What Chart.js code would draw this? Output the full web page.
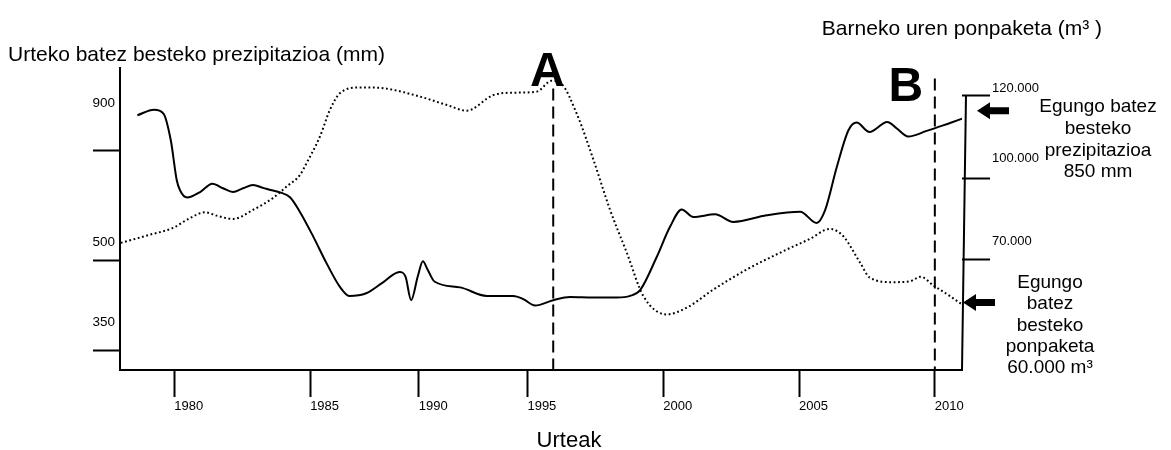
<!DOCTYPE html>
<html>
<head>
<meta charset="utf-8">
<script src="https://cdn.jsdelivr.net/npm/chart.js@4.4.1/dist/chart.umd.min.js"></script>
<style>
html,body{margin:0;padding:0;background:#fff;}
#wrap{width:1171px;height:450px;}
</style>
</head>
<body>
<div id="wrap"><canvas id="c" width="1171" height="450"></canvas></div>
<script>
// ---------- data ----------
const yearTicks = [1980, 1985, 1990, 1995, 2000, 2005, 2010];

const precipYears = [1978.64, 1979.25, 1979.6, 1979.87, 1980.09, 1980.21, 1980.47, 1980.95, 1981.4, 1981.79,
  1982.16, 1982.53, 1982.9, 1983.27, 1983.59, 1983.89, 1984.26, 1984.63, 1985.15, 1985.76,
  1986.37, 1986.8, 1987.58, 1988.34, 1989.11, 1989.39, 1989.65, 1989.95, 1990.19, 1990.41,
  1990.72, 1991.9, 1993.13, 1994.35, 1994.81, 1995.28, 1995.95, 1996.57, 1997.43, 1998.29,
  1998.78, 1999.15, 1999.76, 2000.25, 2000.68, 2001.11, 2001.91, 2002.58, 2003.81, 2005.04,
  2005.65, 2005.96, 2006.39, 2006.82, 2007.12, 2007.59, 2008.25, 2008.6, 2009.02, 2009.7,
  2010.56, 2011];
const precipMm = [865, 881, 870, 793, 678, 649, 628, 644, 668, 655,
  644, 655, 664, 656, 649, 643, 629, 586, 515, 460,
  416, 399, 404, 424, 444, 435, 391, 435, 464, 448,
  426, 415, 399, 399, 393, 381, 391, 397, 396, 396,
  399, 410, 472, 544, 594, 572, 580, 558, 577, 587,
  555, 592, 716, 822, 844, 817, 846, 827, 804, 820,
  843, 855];

const pumpYears = [1978.03, 1979.1, 1979.95, 1980.58, 1981.13, 1981.56, 1982.16, 1982.91, 1983.63, 1984.14,
  1984.63, 1984.87, 1985.45, 1985.91, 1986.37, 1987.3, 1988.37, 1990.06, 1991.29, 1992.21,
  1993.43, 1994.35, 1995.34, 1995.89, 1996.26, 1996.81, 1997.43, 1998.04, 1998.66, 1999.27,
  2000.13, 2000.87, 2001.85, 2003.08, 2004.42, 2005.4, 2006.14, 2006.63, 2007.25, 2007.61,
  2008.47, 2009.09, 2009.48, 2009.95, 2010.56, 2011];
const pumpM3 = [69650, 72600, 75050, 78650, 80700, 79500, 78300, 81650, 85850, 90050,
  94250, 98500, 106300, 113800, 118500, 120150, 119900, 117550, 115200, 113600,
  118000, 118650, 118950, 122000, 121100, 112850, 99700, 81650, 66050, 50400,
  43800, 46250, 52800, 60050, 66650, 71100, 74700, 72050, 62450, 57050,
  55450, 55800, 57400, 54250, 50400, 47400];

const leftTickValues = [350, 500, 900];
const leftTickLabels = ['350', '500', '900'];
const leftMarkValues = [296, 466, 765];
const rightTickValues = [70000, 100000, 120000];
const rightTickLabels = ['70.000', '100.000', '120.000'];
const rightMarkValues = [63800, 93100, 118000];

const markerYears = [1995.95, 2010];
const markerLabels = ['A', 'B'];
const markerTopMm = [942, 971];

const leftTitle = 'Urteko batez besteko prezipitazioa (mm)';
const rightTitle = 'Barneko uren ponpaketa (m³ )';
const xTitle = 'Urteak';
const precipNote = ['Egungo batez', 'besteko', 'prezipitazioa', '850 mm'];
const pumpNote = ['Egungo', 'batez', 'besteko', 'ponpaketa', '60.000 m³'];

// ---------- schematic (piecewise) scale ----------
class SegmentScale extends Chart.LinearScale {
  warp(v) {
    const b = this.options.breaks || [], w = this.options.weights || [1];
    if (!b.length) return v * w[0];
    if (v <= b[0]) return (v - b[0]) * w[0];
    let r = 0;
    for (let i = 0; i < b.length; i++) {
      const s = b[i], e = i + 1 < b.length ? b[i + 1] : Infinity;
      if (v <= e) return r + (v - s) * w[i + 1];
      r += (e - s) * w[i + 1];
    }
    return r;
  }
  unwarp(u) {
    const b = this.options.breaks || [], w = this.options.weights || [1];
    if (!b.length) return u / w[0];
    if (u <= 0) return b[0] + u / w[0];
    let r = 0;
    for (let i = 0; i < b.length; i++) {
      const s = b[i], e = i + 1 < b.length ? b[i + 1] : Infinity;
      const seg = (e - s) * w[i + 1];
      if (u <= r + seg) return s + (u - r) / w[i + 1];
      r += seg;
    }
    return b[b.length - 1];
  }
  getPixelForValue(value) {
    if (value === null || value === undefined || isNaN(value)) return NaN;
    const a = this.warp(this.min), z = this.warp(this.max);
    return this.getPixelForDecimal((this.warp(value) - a) / (z - a));
  }
  getValueForPixel(pixel) {
    const a = this.warp(this.min), z = this.warp(this.max);
    return this.unwarp(a + this.getDecimalForPixel(pixel) * (z - a));
  }
}
SegmentScale.id = 'segment';
Chart.register(SegmentScale);

const FONT = "'Liberation Sans', Arial, Helvetica, sans-serif";
Chart.defaults.font.family = FONT;
Chart.defaults.color = '#000';

function drawArrow(ctx, tipX, tipY) {
  ctx.beginPath();
  ctx.moveTo(tipX, tipY);
  ctx.lineTo(tipX + 13, tipY - 8.5);
  ctx.lineTo(tipX + 13, tipY - 3.5);
  ctx.lineTo(tipX + 32, tipY - 3.5);
  ctx.lineTo(tipX + 32, tipY + 3.5);
  ctx.lineTo(tipX + 13, tipY + 3.5);
  ctx.lineTo(tipX + 13, tipY + 8.5);
  ctx.closePath();
  ctx.fill();
}

const overlay = {
  id: 'overlay',
  afterDatasetsDraw(chart) {
    const {ctx, chartArea: ca, scales} = chart;
    const xs = scales.x, ys = scales.y, y2 = scales.y2;
    ctx.save();
    ctx.fillStyle = '#000';
    ctx.strokeStyle = '#000';
    // right axis line
    ctx.lineWidth = 2;
    ctx.beginPath();
    ctx.moveTo(ca.right + 4, y2.getPixelForValue(Math.max(...rightMarkValues)));
    ctx.lineTo(ca.right, ca.bottom);
    ctx.stroke();
    // marker letters
    ctx.font = 'bold 48px ' + FONT;
    ctx.textAlign = 'center';
    ctx.textBaseline = 'alphabetic';
    const letterDx = [-6, -29], letterDy = [-3, 23];
    markerYears.forEach((yr, i) => {
      const px = xs.getPixelForValue(yr), top = ys.getPixelForValue(markerTopMm[i]);
      ctx.fillText(markerLabels[i], px + letterDx[i], top + letterDy[i]);
    });
    // arrows pointing at the current values (end of each curve)
    const lastP = chart.getDatasetMeta(0).data.at(-1);
    const lastQ = chart.getDatasetMeta(1).data.at(-1);
    drawArrow(ctx, ca.right + 15, lastP.y - 8);
    drawArrow(ctx, ca.right + 1, lastQ.y - 2);
    // notes
    ctx.font = '19px ' + FONT;
    ctx.textBaseline = 'middle';
    precipNote.forEach((t, i) => ctx.fillText(t, 1098, 107 + i * 21.7));
    pumpNote.forEach((t, i) => ctx.fillText(t, 1050, 283 + i * 21.2));
    // x title
    ctx.font = '22px ' + FONT;
    ctx.textBaseline = 'alphabetic';
    ctx.fillText(xTitle, 569, 447);
    ctx.restore();
  }
};

const tickMarkColor = (marks) => (c) => (c && c.tick && marks.includes(c.tick.value)) ? '#000' : 'rgba(0,0,0,0)';

new Chart(document.getElementById('c'), {
  type: 'line',
  data: {
    datasets: [
      {
        label: 'Prezipitazioa',
        data: precipYears.map((x, i) => ({x, y: precipMm[i]})),
        yAxisID: 'y',
        borderColor: '#000', borderWidth: 2, pointRadius: 0,
        cubicInterpolationMode: 'monotone', fill: false
      },
      {
        label: 'Ponpaketa',
        data: pumpYears.map((x, i) => ({x, y: pumpM3[i]})),
        yAxisID: 'y2',
        borderColor: '#000', borderWidth: 2, borderDash: [1.8, 2.6], pointRadius: 0,
        cubicInterpolationMode: 'monotone', fill: false
      },
      ...markerYears.map((yr, i) => ({
        label: markerLabels[i],
        data: [{x: yr, y: markerTopMm[i]}, {x: yr, y: 260}],
        yAxisID: 'y',
        borderColor: '#000', borderWidth: 2, borderDash: [12, 6], pointRadius: 0, tension: 0, fill: false
      }))
    ]
  },
  options: {
    responsive: false,
    animation: false,
    devicePixelRatio: 1,
    events: [],
    layout: {padding: {left: 8, right: 69, top: 0, bottom: 0}},
    plugins: {
      legend: {display: false},
      tooltip: {enabled: false},
      title: {display: true, text: rightTitle, align: 'end', color: '#000',
              font: {size: 21, weight: 'normal'}, padding: {top: 17, bottom: 0}},
      subtitle: {display: true, text: leftTitle, align: 'start', color: '#000',
                 font: {size: 21, weight: 'normal'}, padding: {top: 0, bottom: 1}}
    },
    scales: {
      x: {
        type: 'segment', position: 'bottom', min: 1978, max: 2011,
        breaks: [1985, 1995], weights: [1, 0.8, 1],
        afterBuildTicks: s => { s.ticks = yearTicks.map(v => ({value: v})); },
        afterFit: s => { s.height = 80; },
        grid: {drawOnChartArea: false, drawTicks: true, tickLength: 27, tickWidth: 2, tickColor: '#000'},
        border: {display: true, color: '#000', width: 2},
        ticks: {autoSkip: false, maxRotation: 0, minRotation: 0, align: 'start', padding: 2,
                color: '#000', font: {size: 13}, callback: v => String(v)}
      },
      y: {
        type: 'segment', position: 'left', min: 260, max: 1000,
        breaks: [500], weights: [1.5348, 1],
        afterBuildTicks: s => { s.ticks = [...leftTickValues, ...leftMarkValues].sort((a, b) => a - b).map(v => ({value: v})); },
        afterFit: s => { s.width = 112; },
        grid: {drawOnChartArea: false, drawTicks: true, tickLength: 27, tickWidth: 2, tickColor: tickMarkColor(leftMarkValues)},
        border: {display: true, color: '#000', width: 2},
        ticks: {padding: -22, color: '#000', font: {size: 13.5},
                callback: v => { const i = leftTickValues.indexOf(v); return i >= 0 ? leftTickLabels[i] : ''; }}
      },
      y2: {
        type: 'segment', position: 'right', min: 23700, max: 125500,
        breaks: [100000], weights: [1, 1.2831],
        afterBuildTicks: s => { s.ticks = [...rightTickValues, ...rightMarkValues].sort((a, b) => a - b).map(v => ({value: v})); },
        afterFit: s => { s.width = 140; },
        grid: {drawOnChartArea: false, drawTicks: true, tickLength: 28, tickWidth: 2, tickColor: tickMarkColor(rightMarkValues)},
        border: {display: false},
        ticks: {padding: 2, color: '#000', font: {size: 13},
                callback: v => { const i = rightTickValues.indexOf(v); return i >= 0 ? rightTickLabels[i] : ''; }}
      }
    }
  },
  plugins: [overlay]
});
</script>
</body>
</html>
